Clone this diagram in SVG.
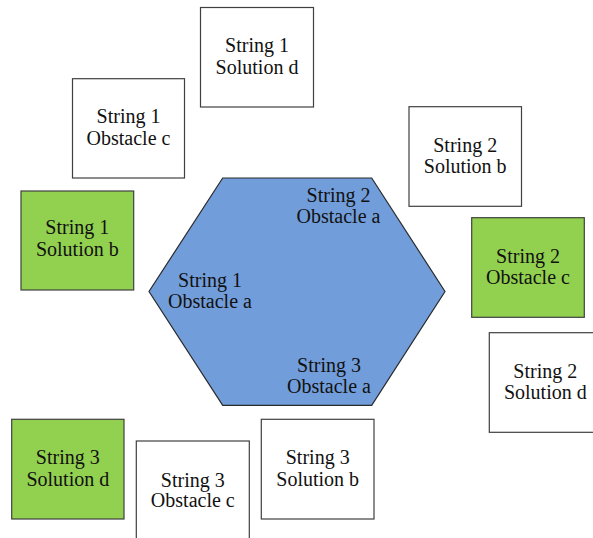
<svg xmlns="http://www.w3.org/2000/svg" width="593" height="538" viewBox="0 0 593 538">
<style>
rect.b{fill:#ffffff;stroke:#404040;stroke-width:1.2}
rect.g{fill:#92D050;stroke:#404040;stroke-width:1.2}
polygon.h{fill:#719DDA;stroke:#2a2a2a;stroke-width:1.2}
text{font-family:"Liberation Serif","Times New Roman",serif;font-size:20px;fill:#111;text-anchor:middle}
</style>
<rect width="593" height="538" fill="#ffffff"/>
<g id="hexagon">
<polygon class="h" points="222.7,178 371.7,178 445,291.5 371.7,405.3 222.7,405.3 149,291.5"/>
<text x="338.5" y="201.5">String 2</text>
<text x="338.5" y="222.5">Obstacle a</text>
<text x="210" y="287">String 1</text>
<text x="210" y="307.5">Obstacle a</text>
<text x="329" y="371.5">String 3</text>
<text x="329" y="392.5">Obstacle a</text>
</g>
<g id="s1-sol-d">
<rect class="b" x="200.5" y="7.5" width="113" height="99.5"/>
<text x="257" y="52.3">String 1</text>
<text x="257" y="74">Solution d</text>
</g>
<g id="s1-obs-c">
<rect class="b" x="72.5" y="78.7" width="112" height="99.3"/>
<text x="128.5" y="123.3">String 1</text>
<text x="128.5" y="145">Obstacle c</text>
</g>
<g id="s2-sol-b">
<rect class="b" x="409" y="106.7" width="112.5" height="99.6"/>
<text x="465.2" y="151.5">String 2</text>
<text x="465.2" y="173">Solution b</text>
</g>
<g id="s1-sol-b">
<rect class="g" x="21" y="191" width="112.7" height="99"/>
<text x="77.3" y="234.3">String 1</text>
<text x="77.3" y="256">Solution b</text>
</g>
<g id="s2-obs-c">
<rect class="g" x="471.7" y="217.7" width="112.6" height="99.6"/>
<text x="528" y="262.5">String 2</text>
<text x="528" y="284">Obstacle c</text>
</g>
<g id="s2-sol-d">
<rect class="b" x="489.3" y="332.7" width="112" height="99.6"/>
<text x="545.3" y="377.5">String 2</text>
<text x="545.3" y="399">Solution d</text>
</g>
<g id="s3-sol-d">
<rect class="g" x="11.7" y="419.3" width="112.3" height="99.7"/>
<text x="67.8" y="464">String 3</text>
<text x="67.8" y="485.5">Solution d</text>
</g>
<g id="s3-obs-c">
<rect class="b" x="136.3" y="441" width="113" height="100"/>
<text x="192.8" y="486.7">String 3</text>
<text x="192.8" y="507.3">Obstacle c</text>
</g>
<g id="s3-sol-b">
<rect class="b" x="261.3" y="419.3" width="112.7" height="99.7"/>
<text x="317.7" y="464">String 3</text>
<text x="317.7" y="485.5">Solution b</text>
</g>
<g id="connectors"/>
</svg>
